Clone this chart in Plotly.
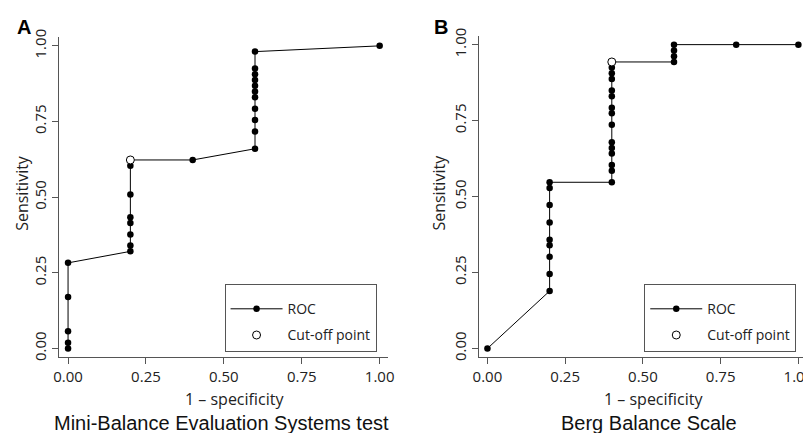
import plotly.graph_objects as go

# ROC coordinates (1 - specificity, sensitivity)
mbes_fpr = [0.0, 0.0, 0.0, 0.0, 0.0,
            0.2, 0.2, 0.2, 0.2, 0.2, 0.2, 0.2, 0.2,
            0.4,
            0.6, 0.6, 0.6, 0.6, 0.6, 0.6, 0.6, 0.6, 0.6, 0.6, 0.6,
            1.0]
mbes_sens = [0.000, 0.019, 0.057, 0.170, 0.283,
             0.321, 0.340, 0.377, 0.415, 0.434, 0.509, 0.604, 0.623,
             0.623,
             0.660, 0.717, 0.755, 0.792, 0.830, 0.849, 0.868, 0.887, 0.906, 0.925, 0.981,
             1.000]
mbes_cut = (0.2, 0.623)

bbs_fpr = [0.0,
           0.2, 0.2, 0.2, 0.2, 0.2, 0.2, 0.2, 0.2, 0.2,
           0.4, 0.4, 0.4, 0.4, 0.4, 0.4, 0.4, 0.4, 0.4, 0.4, 0.4, 0.4, 0.4, 0.4, 0.4,
           0.6, 0.6, 0.6, 0.6,
           0.8, 1.0]
bbs_sens = [0.000,
            0.189, 0.245, 0.302, 0.340, 0.358, 0.415, 0.472, 0.528, 0.547,
            0.547, 0.585, 0.604, 0.642, 0.660, 0.679, 0.736, 0.774, 0.792, 0.830, 0.849,
            0.887, 0.906, 0.925, 0.943,
            0.943, 0.962, 0.981, 1.000,
            1.000, 1.000]
bbs_cut = (0.4, 0.943)

tick_vals = [0, 0.25, 0.5, 0.75, 1.0]
tick_text = ["0.00", "0.25", "0.50", "0.75", "1.00"]

W, H = 811, 433
TICK_FONT = "Open Sans"
CAP_FONT = "Liberation Sans"
AX_COL = "#555555"

fig = go.Figure()

panels = [
    ("x", "y", "legend", mbes_fpr, mbes_sens, mbes_cut),
    ("x2", "y2", "legend2", bbs_fpr, bbs_sens, bbs_cut),
]
for xa, ya, lg, fpr, sens, cut in panels:
    fig.add_trace(go.Scatter(
        x=fpr, y=sens, xaxis=xa, yaxis=ya, legend=lg, name="ROC",
        legendgroup=lg + "roc",
        mode="lines+markers",
        line=dict(color="black", width=1),
        marker=dict(color="black", size=6.5),
    ))
    fig.add_trace(go.Scatter(
        x=[cut[0]], y=[cut[1]], xaxis=xa, yaxis=ya, legend=lg, name="Cut-off point",
        legendgroup=lg + "cut",
        mode="markers",
        marker=dict(color="white", size=8, line=dict(color="black", width=1)),
    ))

axis_common = dict(
    range=[-0.028, 1.028], showgrid=False, zeroline=False,
    showline=True, linecolor=AX_COL, linewidth=1,
    ticks="outside", ticklen=6, tickcolor=AX_COL,
    tickvals=tick_vals, ticktext=tick_text,
    tickfont=dict(family=TICK_FONT, size=15, color="#222"),
)

legend_common = dict(
    bgcolor="white", bordercolor=AX_COL, borderwidth=1,
    font=dict(family=TICK_FONT, size=14, color="#222"),
    title=dict(text=" ", font=dict(size=6)),
    xanchor="right", yanchor="bottom", tracegroupgap=5, itemwidth=52,
)

fig.update_layout(
    width=W, height=H,
    margin=dict(l=0, r=0, t=0, b=0),
    paper_bgcolor="white", plot_bgcolor="white",
    xaxis=dict(domain=[46 / W, 380 / W], anchor="y", **axis_common),
    yaxis=dict(domain=[1 - 350.7 / H, 1 - 22 / H], anchor="x", tickangle=-90, **axis_common),
    xaxis2=dict(domain=[471.7 / W, 805 / W], anchor="y2", **axis_common),
    yaxis2=dict(domain=[1 - 350.7 / H, 1 - 20.7 / H], anchor="x2", tickangle=-90, **axis_common),
    legend=dict(x=368 / W, y=1 - 346 / H, **legend_common),
    legend2=dict(x=794 / W, y=1 - 346 / H, **legend_common),
    showlegend=True,
)

annotations = [
    dict(text="Sensitivity", x=8 / W, y=1 - 182 / H, textangle=-90,
         font=dict(family=TICK_FONT, size=16, color="#222")),
    dict(text="Sensitivity", x=431 / W, y=1 - 182 / H, textangle=-90,
         font=dict(family=TICK_FONT, size=16, color="#222")),
    dict(text="1 \u2013 specificity", x=224 / W, y=1 - 394 / H,
         font=dict(family=TICK_FONT, size=16, color="#222")),
    dict(text="1 \u2013 specificity", x=649 / W, y=1 - 394 / H,
         font=dict(family=TICK_FONT, size=16, color="#222")),
    dict(text="Mini-Balance Evaluation Systems test", x=211 / W, y=1 - 432 / H,
         yanchor="bottom", font=dict(family=CAP_FONT, size=20, color="#111")),
    dict(text="Berg Balance Scale", x=645 / W, y=1 - 432 / H,
         yanchor="bottom", font=dict(family=CAP_FONT, size=20, color="#111")),
    dict(text="<b>A</b>", x=1 / W, y=1 - 11 / H, xanchor="left",
         font=dict(family=CAP_FONT, size=20, color="black")),
    dict(text="<b>B</b>", x=424 / W, y=1 - 11 / H, xanchor="left",
         font=dict(family=CAP_FONT, size=20, color="black")),
]
for a in annotations:
    a.setdefault("xanchor", "center")
    a.setdefault("yanchor", "middle")
    fig.add_annotation(xref="paper", yref="paper", showarrow=False, **a)

fig.write_html("out.html")
